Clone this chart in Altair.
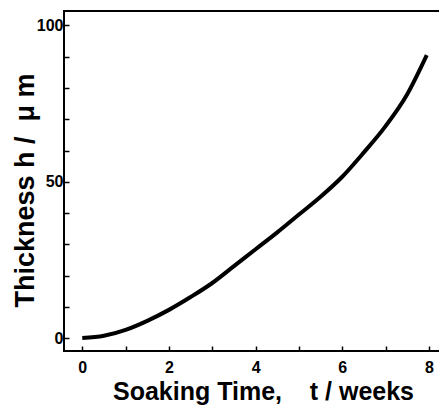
import altair as alt
import pandas as pd

# ---- data ----
t_weeks = [0, 0.5, 1, 1.5, 2, 2.5, 3, 3.5, 4, 4.5, 5, 5.5, 6, 6.5, 7, 7.5, 7.95]
thickness = [0, 0.7, 2.6, 5.5, 9.0, 13.1, 17.6, 23.0, 28.4, 33.8, 39.5, 45.2, 51.6, 59.4, 67.8, 78.0, 90.5]

x_tick_vals = [0, 1, 2, 3, 4, 5, 6, 7, 8]
y_tick_vals = [0, 10, 20, 30, 40, 50, 60, 70, 80, 90, 100]

X_TITLE = "Soaking Time,\u00a0\u00a0\u00a0\u00a0t / weeks"
Y_TITLE = "Thickness h /\u00a0\u00a0\u03bc m"

X_DOMAIN = [-0.422, 8.279]
Y_DOMAIN = [-4.16, 104.64]

W, H = 377, 340
FONT = "Liberation Sans"

curve = pd.DataFrame({"t": t_weeks, "h": thickness})

xs = alt.Scale(domain=X_DOMAIN, nice=False, zero=False)
ys = alt.Scale(domain=Y_DOMAIN, nice=False, zero=False)

x_axis = alt.Axis(values=x_tick_vals, labelExpr="datum.value % 2 == 0 ? datum.label : ''",
                  offset=-5, domain=False, ticks=True, tickSize=5, tickWidth=1.5,
                  tickColor="black", grid=False, labelPadding=8, labelFlush=False,
                  labelFont=FONT, labelFontSize=16, labelFontWeight="bold", labelColor="black",
                  title=X_TITLE, titleFont=FONT, titleFontSize=25, titleFontWeight="bold",
                  titleColor="black", titleX=199, titleY=53,
                  titleAlign="center", titleBaseline="alphabetic")
y_axis = alt.Axis(values=y_tick_vals, labelExpr="datum.value % 50 == 0 ? datum.label : ''",
                  offset=-5, domain=False, ticks=True, tickSize=5, tickWidth=1.5,
                  tickColor="black", grid=False, labelPadding=1, labelFlush=False,
                  labelFont=FONT, labelFontSize=16, labelFontWeight="bold", labelColor="black",
                  title=Y_TITLE, titleFont=FONT, titleFontSize=27, titleFontWeight="bold",
                  titleColor="black", titleX=-36, titleY=179, titleAngle=270,
                  titleAlign="center", titleBaseline="alphabetic")

chart = alt.Chart(curve).mark_line(
    color="black", strokeWidth=4, interpolate="monotone"
).encode(
    x=alt.X("t:Q", scale=xs, axis=x_axis),
    y=alt.Y("h:Q", scale=ys, axis=y_axis),
).properties(
    width=W, height=H,
    background="white",
    padding={"left": 64, "top": 11, "right": -2, "bottom": 56},
    autosize=alt.AutoSizeParams(type="none"),
).configure_view(stroke="black", strokeWidth=2)

chart.save("out.html", embed_options={"renderer": "svg", "actions": False})
